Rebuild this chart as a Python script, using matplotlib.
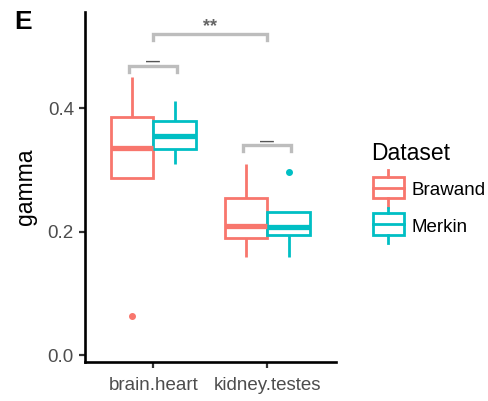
import matplotlib
matplotlib.use('Agg')
import matplotlib.pyplot as plt
from matplotlib.patches import Rectangle

plt.rcParams['font.family'] = ['Liberation Sans', 'DejaVu Sans']

groups = ['brain.heart', 'kidney.testes']
datasets = ['Brawand', 'Merkin']
colors = ['#F8766D', '#00BFC4']

# box summaries, one value per group
whislo = {'Brawand': [0.287, 0.159], 'Merkin': [0.310, 0.159]}
q1 = {'Brawand': [0.287, 0.190], 'Merkin': [0.334, 0.195]}
med = {'Brawand': [0.336, 0.209], 'Merkin': [0.355, 0.208]}
q3 = {'Brawand': [0.385, 0.255], 'Merkin': [0.379, 0.232]}
whishi = {'Brawand': [0.451, 0.310], 'Merkin': [0.412, 0.232]}
fliers = {'Brawand': [[0.064], []], 'Merkin': [[], [0.297]]}

# significance brackets
sig_x = [(0.79, 1.21), (1.79, 2.21), (1.0, 2.0)]
sig_y = [0.469, 0.340, 0.520]
sig_labels = ['—', '—', '**']

fig = plt.figure(figsize=(4.88, 4.01), dpi=100)
ax = fig.add_axes([85 / 488, 1 - 362 / 401, 250.8 / 488, 350 / 401])

dodge = 0.1875
width = 0.375
for k, ds in enumerate(datasets):
    off = -dodge if k == 0 else dodge
    stats = []
    for i in range(len(groups)):
        stats.append(dict(whislo=whislo[ds][i], q1=q1[ds][i], med=med[ds][i],
                          q3=q3[ds][i], whishi=whishi[ds][i], fliers=fliers[ds][i]))
    pos = [i + 1 + off for i in range(len(groups))]
    c = colors[k]
    ax.bxp(stats, positions=pos, widths=width, showcaps=False, patch_artist=True,
           boxprops=dict(facecolor='white', edgecolor=c, linewidth=2.0),
           whiskerprops=dict(color=c, linewidth=2.0, solid_capstyle='butt'),
           medianprops=dict(color=c, linewidth=3.8, solid_capstyle='butt'),
           flierprops=dict(marker='o', markerfacecolor=c, markeredgecolor=c,
                           markersize=4))

tip = 0.010
for (x0, x1), y, lab in zip(sig_x, sig_y, sig_labels):
    ax.plot([x0, x0, x1, x1], [y - tip, y, y, y - tip], color='#bdbdbd',
            lw=2.4, solid_joinstyle='miter', clip_on=False)
    if lab == '**':
        ax.text((x0 + x1) / 2, y + 0.013, lab, ha='center', va='center',
                fontsize=13, color='#666666', fontweight='bold')
    else:
        ax.text((x0 + x1) / 2, y + 0.006, lab, ha='center', va='center',
                fontsize=10, color='#555555', fontweight='bold')

ax.set_xlim(0.4, 2.6)
ax.set_ylim(-0.0113, 0.556)
ax.set_xticks([1, 2])
ax.set_xticklabels(groups)
ax.set_yticks([0.0, 0.2, 0.4])
ax.set_yticklabels(['0.0', '0.2', '0.4'])
ax.spines['top'].set_visible(False)
ax.spines['right'].set_visible(False)
for s in ['left', 'bottom']:
    ax.spines[s].set_linewidth(1.9)
    ax.spines[s].set_color('black')
ax.tick_params(length=4, width=1.6, color='#333333', labelcolor='#4D4D4D',
               labelsize=13.5, pad=4)
ax.tick_params(axis='x', pad=7)
ax.set_ylabel('gamma', fontsize=16.5, labelpad=8)

# legend drawn in pixel space
lax = fig.add_axes([0, 0, 1, 1])
lax.set_xlim(0, 488)
lax.set_ylim(401, 0)
lax.axis('off')
lax.patch.set_alpha(0)
lax.text(371, 160, 'Dataset', fontsize=16.5, ha='left', va='baseline')
keys = [(176.7, 198.3, 170, 206.7), (213.3, 235, 207.7, 243.3)]
for (top, bot, wt, wb), ds, c in zip(keys, datasets, colors):
    lax.plot([388, 388], [wt, top], color=c, lw=2.0)
    lax.plot([388, 388], [bot, wb], color=c, lw=2.0)
    lax.add_patch(Rectangle((372.5, top), 31, bot - top, facecolor='white',
                            edgecolor=c, lw=2.0))
    lax.plot([372.5, 403.5], [(top + bot) / 2] * 2, color=c, lw=2.0)
    lax.text(411.5, bot - 3, ds, fontsize=13.5, ha='left', va='baseline')

fig.text(14 / 488, 1 - 10 / 401, 'E', fontsize=19, fontweight='bold',
         ha='left', va='top')

fig.savefig('out.png', dpi=100)
